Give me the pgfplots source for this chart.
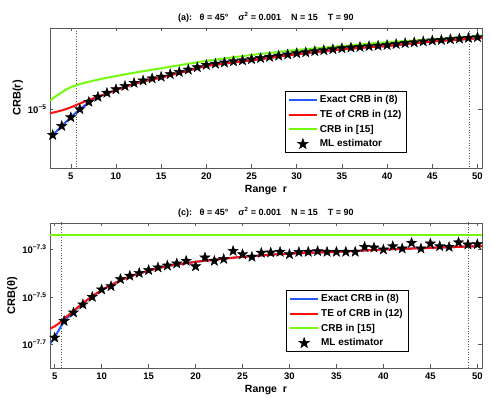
\documentclass[border=0pt]{standalone}
\usepackage{fontspec}
\setmainfont{Liberation Sans}
\usepackage{pgfplots}
\pgfplotsset{compat=1.18}

\definecolor{mblue}{rgb}{0.15,0.35,1}
\definecolor{mred}{rgb}{1,0.05,0.05}
\definecolor{mgreen}{rgb}{0.45,0.98,0.05}
\definecolor{axgray}{rgb}{0.35,0.35,0.35}

% filled five-pointed star, like MATLAB's pentagram marker
\pgfdeclareplotmark{pstar}{%
  \pgfpathmoveto{\pgfqpointpolar{90}{\pgfplotmarksize}}%
  \pgfpathlineto{\pgfqpointpolar{126}{0.4\pgfplotmarksize}}%
  \pgfpathlineto{\pgfqpointpolar{162}{\pgfplotmarksize}}%
  \pgfpathlineto{\pgfqpointpolar{198}{0.4\pgfplotmarksize}}%
  \pgfpathlineto{\pgfqpointpolar{234}{\pgfplotmarksize}}%
  \pgfpathlineto{\pgfqpointpolar{270}{0.4\pgfplotmarksize}}%
  \pgfpathlineto{\pgfqpointpolar{306}{\pgfplotmarksize}}%
  \pgfpathlineto{\pgfqpointpolar{342}{0.4\pgfplotmarksize}}%
  \pgfpathlineto{\pgfqpointpolar{18}{\pgfplotmarksize}}%
  \pgfpathlineto{\pgfqpointpolar{54}{0.4\pgfplotmarksize}}%
  \pgfpathclose
  \pgfusepathqfillstroke}

\pgfplotsset{
  crbax/.style={
    scale only axis, width=432pt,
    axis line style={axgray, line width=0.6pt},
    tick style={axgray, line width=0.5pt},
    tick align=inside, xtick pos=both, ytick pos=both,
    major tick length=3.5pt,
    xtick={5,10,...,50},
    ticklabel style={font=\fontsize{9.5}{11}\selectfont\bfseries},
    xticklabel style={yshift=-1pt},
    /pgf/number format/assume math mode=true,
    xlabel={Range\ \ r},
    xlabel style={font=\fontsize{10.5}{12}\selectfont\bfseries, yshift=1pt},
    ylabel style={font=\fontsize{11}{13}\selectfont\bfseries, yshift=-2pt},
    title style={font=\fontsize{9}{10.5}\selectfont\bfseries, yshift=-4pt},
    legend style={font=\fontsize{10}{11.5}\selectfont\bfseries, draw=black,
      line width=0.6pt, fill=white, row sep=2pt, inner xsep=3pt, inner ysep=2pt},
    legend cell align=left,
    clip=true,
  },
  crbline/.style={line width=2pt, no markers,
    legend image code/.code={\draw[##1,line width=2pt] (0pt,0pt) -- (28pt,0pt);}},
  crbml/.style={only marks, mark=pstar, mark size=5.4pt, draw=black, fill=black,
    legend image code/.code={\draw[##1] plot coordinates {(14pt,0pt)};}},
  fresnel/.style={axgray, line width=0.9pt, dash pattern=on 1pt off 1.6pt, forget plot},
}

\begin{document}
\begin{tikzpicture}
% ---------------- (a) range ----------------
\begin{axis}[crbax, at={(0pt,0pt)}, height=140pt,
  xmin=2.7, xmax=50.5, ymin=-5.249, ymax=-4.658,
  ytick={-5}, yticklabels={10\textsuperscript{−5}},
  ylabel={CRB(r)},
  title={(a):\ \ \ θ = 45°\ \ \ \ σ\textsuperscript{2} = 0.001\ \ \ \ N = 15\ \ \ \ T = 90},
  legend style={at={(0.826,0.109)}, anchor=south east},
]
\addplot[fresnel] coordinates {(5.65,-5.3) (5.65,-4.6)};
\addplot[fresnel] coordinates {(49.1,-5.3) (49.1,-4.6)};
\addplot[crbline, mblue, smooth] coordinates {
  (2.7,-5.125) (3,-5.110) (4,-5.072) (5,-5.035) (6,-5.001) (7,-4.972)
  (8,-4.950) (9,-4.934) (10,-4.920) (11,-4.907) (12,-4.894) (13,-4.884)
  (14,-4.875) (15,-4.867) (16,-4.857) (17,-4.848) (18,-4.838) (19,-4.828)
  (20,-4.818) (22,-4.808) (24,-4.799) (26,-4.789) (28,-4.779) (30,-4.769)
  (32,-4.760) (34,-4.752) (36,-4.745) (38,-4.739) (40,-4.734) (42,-4.726)
  (44,-4.719) (46,-4.712) (48,-4.707) (50,-4.701) (50.5,-4.699)
};
\addlegendentry{Exact CRB in (8)}
\addplot[crbline, mred, smooth] coordinates {
  (2.7,-5.018) (4,-5.006) (5,-4.993) (6,-4.977) (7,-4.962) (8,-4.948)
  (9,-4.934) (10,-4.920) (11,-4.907) (12,-4.894) (13,-4.884) (14,-4.875)
  (15,-4.867) (16,-4.857) (17,-4.848) (18,-4.838) (19,-4.828) (20,-4.818)
  (22,-4.808) (24,-4.799) (26,-4.789) (28,-4.779) (30,-4.769) (32,-4.760)
  (34,-4.752) (36,-4.745) (38,-4.739) (40,-4.734) (42,-4.726) (44,-4.719)
  (46,-4.712) (48,-4.707) (50,-4.701) (50.5,-4.699)
};
\addlegendentry{TE of CRB in (12)}
\addplot[crbline, mgreen, smooth] coordinates {
  (2.7,-4.965) (3,-4.956) (3.5,-4.942) (4,-4.930) (4.5,-4.918) (5,-4.908)
  (6,-4.895) (7,-4.885) (8,-4.876) (9,-4.868) (10,-4.861) (12,-4.847)
  (15,-4.828) (20,-4.797) (25,-4.772) (30,-4.751) (35,-4.734) (40,-4.718)
  (45,-4.706) (50,-4.692) (50.5,-4.691)
};
\addlegendentry{CRB in [15]}
\addplot[crbml] coordinates {
  (3,-5.110) (4,-5.072) (5,-5.035) (6,-5.001) (7,-4.970) (8,-4.949)
  (9,-4.932) (10,-4.917) (11,-4.903) (12,-4.890) (13,-4.880) (14,-4.871)
  (15,-4.864) (16,-4.853) (17,-4.844) (18,-4.834) (19,-4.824) (20,-4.814)
  (21,-4.809) (22,-4.804) (23,-4.799) (24,-4.795) (25,-4.790) (26,-4.785)
  (27,-4.780) (28,-4.775) (29,-4.770) (30,-4.765) (31,-4.761) (32,-4.756)
  (33,-4.752) (34,-4.748) (35,-4.744) (36,-4.741) (37,-4.738) (38,-4.735)
  (39,-4.733) (40,-4.730) (41,-4.726) (42,-4.722) (43,-4.719) (44,-4.715)
  (45,-4.711) (46,-4.709) (47,-4.706) (48,-4.703) (49,-4.700) (50,-4.697)
};
\addlegendentry{ML estimator}
\end{axis}

% ---------------- (c) angle ----------------
\begin{axis}[crbax, at={(0pt,-200pt)}, height=145pt,
  xmin=4.5, xmax=50.5, ymin=-7.8, ymax=-7.188,
  ytick={-7.7,-7.5,-7.3},
  yticklabels={10\textsuperscript{−7.7},10\textsuperscript{−7.5},10\textsuperscript{−7.3}},
  ylabel={CRB(θ)},
  title={(c):\ \ \ θ = 45°\ \ \ \ σ\textsuperscript{2} = 0.001\ \ \ \ N = 15\ \ \ \ T = 90},
  legend style={at={(0.829,0.112)}, anchor=south east},
]
\addplot[fresnel] coordinates {(5.72,-7.9) (5.72,-7.1)};
\addplot[fresnel] coordinates {(49.1,-7.9) (49.1,-7.1)};
\addplot[crbline, mblue, smooth] coordinates {
  (4.5,-7.697) (5,-7.670) (5.5,-7.636) (6,-7.604) (6.5,-7.582) (7,-7.562)
  (8,-7.528) (9,-7.498) (10,-7.472) (11,-7.450) (12,-7.430) (13,-7.414)
  (14,-7.401) (15,-7.390) (17,-7.370) (20,-7.352) (22,-7.343) (25,-7.331)
  (30,-7.317) (35,-7.310) (40,-7.300) (45,-7.293) (50,-7.286) (50.5,-7.285)
};
\addlegendentry{Exact CRB in (8)}
\addplot[crbline, mred, smooth] coordinates {
  (4.5,-7.634) (5,-7.624) (5.5,-7.610) (6,-7.592) (7,-7.559) (8,-7.526)
  (9,-7.497) (10,-7.472) (11,-7.450) (12,-7.430) (13,-7.414) (14,-7.401)
  (15,-7.390) (17,-7.370) (20,-7.352) (22,-7.343) (25,-7.331) (30,-7.317)
  (35,-7.310) (40,-7.300) (45,-7.293) (50,-7.286) (50.5,-7.285)
};
\addlegendentry{TE of CRB in (12)}
\addplot[crbline, mgreen] coordinates {(4.5,-7.240) (50.5,-7.240)};
\addlegendentry{CRB in [15]}
\addplot[crbml] coordinates {
  (5,-7.672) (6,-7.602) (7,-7.566) (8,-7.532) (9,-7.500) (10,-7.469)
  (11,-7.455) (12,-7.425) (13,-7.411) (14,-7.399) (15,-7.387) (16,-7.376)
  (17,-7.368) (18,-7.359) (19,-7.348) (20,-7.371) (21,-7.334) (22,-7.348)
  (23,-7.340) (24,-7.306) (25,-7.320) (26,-7.331) (27,-7.314) (28,-7.313)
  (29,-7.310) (30,-7.320) (31,-7.311) (32,-7.310) (33,-7.307) (34,-7.310)
  (35,-7.310) (36,-7.310) (37,-7.310) (38,-7.289) (39,-7.292) (40,-7.300)
  (41,-7.286) (42,-7.296) (43,-7.272) (44,-7.296) (45,-7.275) (46,-7.286)
  (47,-7.289) (48,-7.270) (49,-7.279) (50,-7.278)
};
\addlegendentry{ML estimator}
\end{axis}
% fix the page to the reference's frame
\pgfresetboundingbox
\path (-50pt,168pt) rectangle (441pt,-230pt);
\end{tikzpicture}
\end{document}
